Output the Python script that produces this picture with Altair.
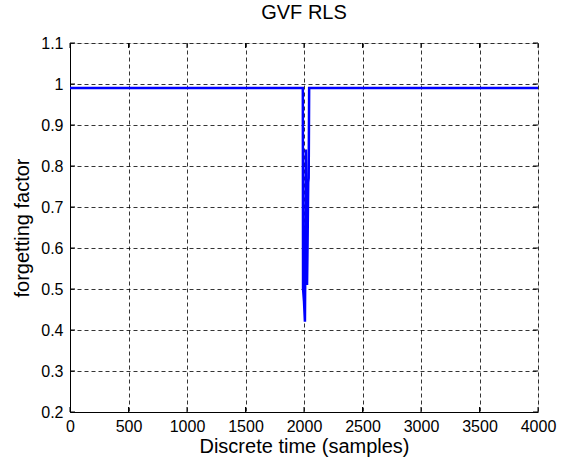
import altair as alt
import pandas as pd

samples = [0, 1990, 1992, 2000, 2008, 2012, 2016, 2020, 2026, 2030, 2036, 2040, 2044, 4000]
factor = [0.99, 0.99, 0.50, 0.47, 0.42, 0.60, 0.84, 0.70, 0.51, 0.60, 0.76, 0.77, 0.99, 0.99]
x_ticks = [0, 500, 1000, 1500, 2000, 2500, 3000, 3500, 4000]
y_ticks = [0.2, 0.3, 0.4, 0.5, 0.6, 0.7, 0.8, 0.9, 1.0, 1.1]

df = pd.DataFrame({"t": samples, "f": factor})
dfx = pd.DataFrame({"t": x_ticks})
dfy = pd.DataFrame({"f": y_ticks})

W, H = 468, 369
FONT = "Liberation Sans"

xs = alt.Scale(domain=[0, 4000], nice=False, zero=False)
ys = alt.Scale(domain=[0.2, 1.1], nice=False, zero=False)

line = alt.Chart(df).mark_line(color="#0000FF", strokeWidth=2.5, clip=True).encode(
    x=alt.X("t:Q", scale=xs, title="Discrete time (samples)",
            axis=alt.Axis(values=x_ticks, format="d", grid=True, gridDash=[4, 3], gridColor="#000",
                          gridWidth=0.8, gridOpacity=1, ticks=False, labelPadding=6,
                          labelFlush=False, labelOverlap=False,
                          labelFontSize=16, titleFontSize=20, titleFontWeight="normal",
                          labelFont=FONT, titleFont=FONT, labelColor="#000", titleColor="#000",
                          domainColor="#000", titlePadding=2)),
    y=alt.Y("f:Q", scale=ys, title="forgetting factor",
            axis=alt.Axis(values=y_ticks, grid=True, gridDash=[4, 3], gridColor="#000",
                          gridWidth=0.8, gridOpacity=1, ticks=False, labelPadding=7,
                          labelFlush=False, labelOverlap=False,
                          labelExpr="format(datum.value, '.1~f')",
                          labelFontSize=16, titleFontSize=20, titleFontWeight="normal",
                          labelFont=FONT, titleFont=FONT, labelColor="#000", titleColor="#000",
                          domainColor="#000", titlePadding=8)),
)

tick_b = alt.Chart(dfx).mark_rule(color="#000", strokeWidth=1).encode(
    x=alt.X("t:Q", scale=xs), y=alt.value(H), y2=alt.value(H - 5))
tick_t = alt.Chart(dfx).mark_rule(color="#000", strokeWidth=1).encode(
    x=alt.X("t:Q", scale=xs), y=alt.value(0), y2=alt.value(5))
tick_l = alt.Chart(dfy).mark_rule(color="#000", strokeWidth=1).encode(
    y=alt.Y("f:Q", scale=ys), x=alt.value(0), x2=alt.value(5))
tick_r = alt.Chart(dfy).mark_rule(color="#000", strokeWidth=1).encode(
    y=alt.Y("f:Q", scale=ys), x=alt.value(W), x2=alt.value(W - 5))

chart = alt.layer(line, tick_b, tick_t, tick_l, tick_r).properties(
    width=W, height=H,
    title=alt.TitleParams("GVF RLS", fontSize=20, fontWeight="normal", font=FONT,
                          color="#000", offset=12),
    autosize=alt.AutoSizeParams(type="none"),
    padding={"left": 70, "top": 43, "right": 27, "bottom": 46},
).configure_view(stroke="#000", strokeWidth=1).configure(background="white")

chart.save("out.html", embed_options={"renderer": "svg", "actions": False})
